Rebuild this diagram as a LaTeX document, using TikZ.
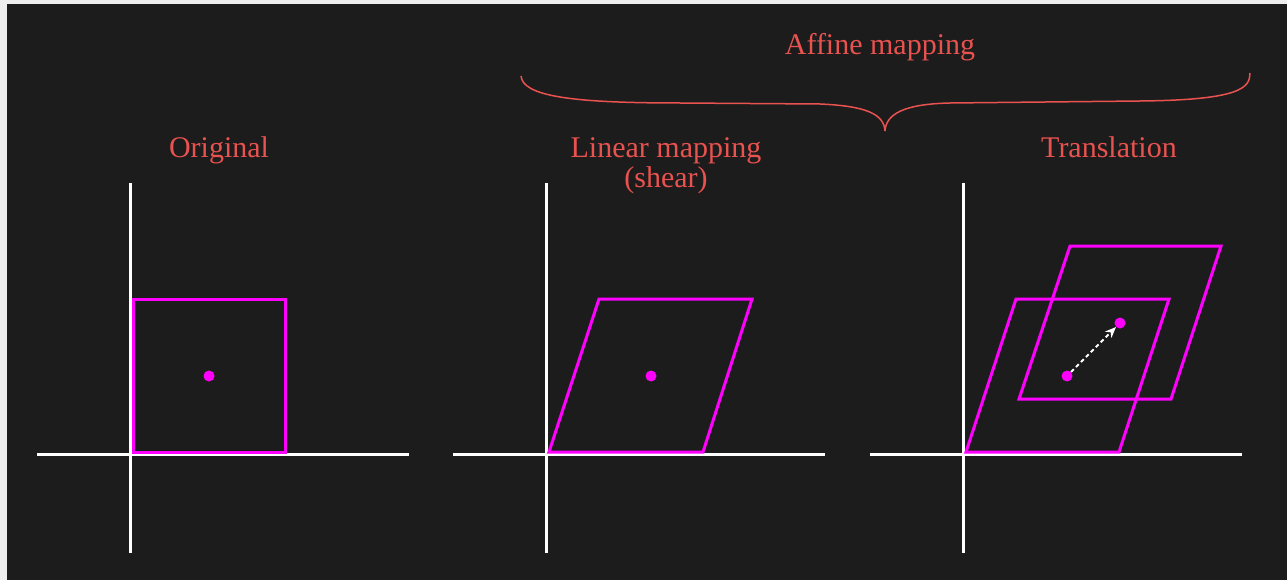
\documentclass[tikz,border=0pt]{standalone}
\usepackage{fontspec}
\setmainfont{Liberation Serif}
\usetikzlibrary{arrows.meta}
\definecolor{bgDark}{HTML}{1C1C1C}
\definecolor{bgPage}{HTML}{EEEEEE}
\definecolor{labelRed}{HTML}{E8524F}
\definecolor{shapeMag}{HTML}{FF00FF}
\tikzset{
  title/.style    ={text=labelRed, font=\fontsize{30}{30}\selectfont, align=center, inner sep=0pt, anchor=base},
  axis/.style     ={draw=white, line width=3pt},
  shapeline/.style={draw=shapeMag, line width=3pt, line join=miter},
  dot/.style      ={circle, fill=shapeMag, inner sep=0pt, minimum size=11pt},
  movearr/.style  ={-{Stealth[length=11pt,width=9pt]}, draw=white, dash pattern=on 4pt off 3pt, line width=1.8pt},
  curly/.style    ={draw=labelRed, line width=1.5pt},
}

\begin{document}
\begin{tikzpicture}[x=1pt, y=-1pt]
  % page and background
  \fill[bgPage] (0,0) rectangle (1287,580);
  \fill[bgDark] (7,4) rectangle (1287,580);
  \useasboundingbox (0,0) rectangle (1287,580);

  % axes of the three panels
  \foreach \ox in {130, 546, 963} {
    \draw[axis] (\ox,183) -- (\ox,553);
    \draw[axis] (\ox-93,454) -- (\ox+279,454);
  }

  % titles
  \node[title] (orig)  at (219,158)  {Original};
  \node[title] (lin)   at (666,188)  {Linear mapping\\(shear)};
  \node[title] (trans) at (1109,158) {Translation};
  \node[title] (aff)   at (880,55)   {Affine mapping};

  % curly brace over the last two panels
  \coordinate (bl) at (521,76);
  \coordinate (bt) at (885,131);
  \coordinate (br) at (1250,73);
  \draw[curly] (bl) .. controls (523,96) and (570,103) .. (680,103)
                    -- (820,104) .. controls (866,106) and (884,114) .. (bt);
  \draw[curly] (bt) .. controls (886,114) and (904,104) .. (950,103)
                    -- (1140,101) .. controls (1240,100) and (1250,88) .. (br);

  % original square
  \draw[shapeline] (133,299) rectangle (285,452);
  \node[dot] (c1) at (209,376) {};

  % sheared square
  \draw[shapeline] (549,452) -- (703,452) -- (752,299) -- (599,299) -- cycle;
  \node[dot] (c2) at (651,376) {};

  % sheared and translated
  \draw[shapeline] (966,452) -- (1119,452) -- (1169,299) -- (1016,299) -- cycle;
  \draw[shapeline] (1019,399) -- (1171,399) -- (1221,246) -- (1070,246) -- cycle;
  \node[dot] (c3) at (1067,376) {};
  \node[dot] (c4) at (1120,323) {};
  \draw[movearr] (c3) -- (c4);
\end{tikzpicture}
\end{document}
